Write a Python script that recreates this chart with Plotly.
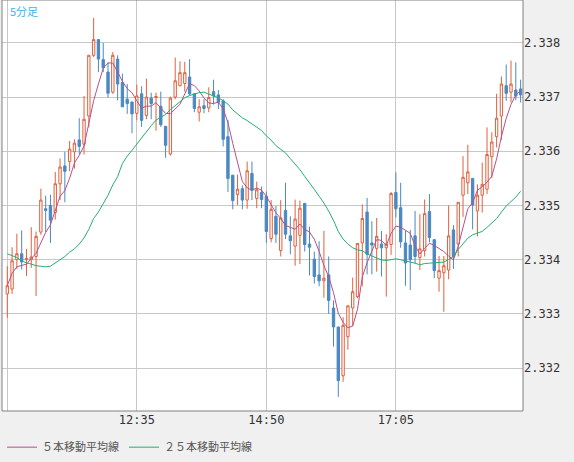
import pandas as pd
import plotly.graph_objects as go

# 5-minute candles, 10:20 .. 19:15
opens = [2.33337, 2.33346, 2.33400, 2.33411, 2.33400, 2.33400, 2.33406, 2.33451, 2.33494, 2.33500,
         2.33487, 2.33540, 2.33573, 2.33581, 2.33599, 2.33621, 2.33613, 2.33665, 2.33777, 2.33806,
         2.33769, 2.33746, 2.33709, 2.33770, 2.33727, 2.33696, 2.33691, 2.33670, 2.33706, 2.33666,
         2.33698, 2.33699, 2.33683, 2.33646, 2.33595, 2.33700, 2.33721, 2.33725, 2.33737, 2.33706,
         2.33672, 2.33684, 2.33680, 2.33710, 2.33704, 2.33693, 2.33627, 2.33556, 2.33520, 2.33531,
         2.33510, 2.33559, 2.33513, 2.33524, 2.33517, 2.33439, 2.33480, 2.33417, 2.33491, 2.33444,
         2.33425, 2.33445, 2.33504, 2.33429, 2.33401, 2.33372, 2.33361, 2.33372, 2.33311, 2.33276,
         2.33186, 2.33258, 2.33311, 2.33332, 2.33431, 2.33488, 2.33431, 2.33421, 2.33429, 2.33422,
         2.33428, 2.33524, 2.33496, 2.33431, 2.33427, 2.33444, 2.33404, 2.33417, 2.33489, 2.33437,
         2.33366, 2.33376, 2.33381, 2.33455, 2.33429, 2.33519, 2.33542, 2.33550, 2.33490, 2.33519,
         2.33530, 2.33590, 2.33627, 2.33665, 2.33721, 2.33709, 2.33713, 2.33715]
highs = [2.33388, 2.33423, 2.33448, 2.33454, 2.33420, 2.33460, 2.33452, 2.33531, 2.33518, 2.33520,
         2.33562, 2.33587, 2.33599, 2.33619, 2.33622, 2.33661, 2.33702, 2.33777, 2.33846, 2.33806,
         2.33800, 2.33764, 2.33783, 2.33777, 2.33743, 2.33724, 2.33691, 2.33723, 2.33720, 2.33734,
         2.33708, 2.33708, 2.33710, 2.33646, 2.33701, 2.33773, 2.33766, 2.33765, 2.33770, 2.33706,
         2.33696, 2.33696, 2.33718, 2.33732, 2.33713, 2.33696, 2.33658, 2.33556, 2.33557, 2.33537,
         2.33581, 2.33581, 2.33544, 2.33535, 2.33526, 2.33510, 2.33499, 2.33510, 2.33542, 2.33480,
         2.33511, 2.33509, 2.33504, 2.33461, 2.33415, 2.33434, 2.33453, 2.33406, 2.33325, 2.33276,
         2.33294, 2.33315, 2.33367, 2.33430, 2.33502, 2.33514, 2.33471, 2.33477, 2.33453, 2.33447,
         2.33525, 2.33561, 2.33542, 2.33453, 2.33455, 2.33490, 2.33484, 2.33511, 2.33521, 2.33438,
         2.33407, 2.33407, 2.33500, 2.33464, 2.33506, 2.33591, 2.33612, 2.33550, 2.33539, 2.33579,
         2.33644, 2.33635, 2.33706, 2.33738, 2.33760, 2.33767, 2.33764, 2.33732]
lows = [2.33293, 2.33337, 2.33383, 2.33382, 2.33370, 2.33385, 2.33333, 2.33446, 2.33451, 2.33431,
        2.33474, 2.33510, 2.33506, 2.33563, 2.33568, 2.33594, 2.33594, 2.33644, 2.33774, 2.33746,
        2.33746, 2.33699, 2.33706, 2.33694, 2.33682, 2.33669, 2.33633, 2.33657, 2.33645, 2.33659,
        2.33659, 2.33638, 2.33645, 2.33588, 2.33592, 2.33696, 2.33720, 2.33710, 2.33703, 2.33672,
        2.33655, 2.33670, 2.33672, 2.33686, 2.33678, 2.33609, 2.33525, 2.33493, 2.33501, 2.33493,
        2.33494, 2.33510, 2.33495, 2.33495, 2.33431, 2.33432, 2.33431, 2.33406, 2.33438, 2.33410,
        2.33389, 2.33392, 2.33415, 2.33371, 2.33356, 2.33351, 2.33330, 2.33300, 2.33240, 2.33147,
        2.33175, 2.33234, 2.33278, 2.33329, 2.33351, 2.33373, 2.33373, 2.33378, 2.33369, 2.33332,
        2.33409, 2.33478, 2.33422, 2.33352, 2.33344, 2.33393, 2.33381, 2.33406, 2.33432, 2.33366,
        2.33341, 2.33304, 2.33364, 2.33383, 2.33406, 2.33479, 2.33521, 2.33456, 2.33443, 2.33487,
        2.33521, 2.33551, 2.33607, 2.33621, 2.33693, 2.33690, 2.33694, 2.33690]
closes = [2.33352, 2.33398, 2.33411, 2.33396, 2.33402, 2.33405, 2.33443, 2.33510, 2.33491, 2.33473,
          2.33540, 2.33571, 2.33563, 2.33604, 2.33615, 2.33609, 2.33659, 2.33777, 2.33806, 2.33770,
          2.33754, 2.33707, 2.33777, 2.33724, 2.33682, 2.33688, 2.33669, 2.33702, 2.33657, 2.33700,
          2.33688, 2.33701, 2.33649, 2.33611, 2.33698, 2.33730, 2.33745, 2.33745, 2.33706, 2.33679,
          2.33682, 2.33679, 2.33699, 2.33702, 2.33690, 2.33622, 2.33550, 2.33509, 2.33530, 2.33510,
          2.33564, 2.33528, 2.33529, 2.33511, 2.33452, 2.33493, 2.33447, 2.33477, 2.33447, 2.33435,
          2.33475, 2.33495, 2.33428, 2.33423, 2.33369, 2.33361, 2.33366, 2.33325, 2.33276, 2.33177,
          2.33279, 2.33315, 2.33341, 2.33430, 2.33476, 2.33410, 2.33427, 2.33443, 2.33422, 2.33429,
          2.33522, 2.33494, 2.33433, 2.33394, 2.33400, 2.33406, 2.33420, 2.33485, 2.33441, 2.33380,
          2.33380, 2.33389, 2.33444, 2.33406, 2.33506, 2.33552, 2.33562, 2.33501, 2.33519, 2.33539,
          2.33594, 2.33617, 2.33661, 2.33724, 2.33707, 2.33724, 2.33702, 2.33704]
# 25-period MA for the first candles (its window reaches before the chart)
ma25_head = [2.33411, 2.33408, 2.33404, 2.33398, 2.33394, 2.33392, 2.33389, 2.33388, 2.33387, 2.33388,
             2.33394, 2.33400, 2.33406, 2.33414, 2.33420, 2.33429, 2.33440, 2.33456, 2.33476, 2.33488,
             2.33504, 2.33519, 2.33538, 2.33553]
tick_idx = [0, 27, 54, 81]
tick_text = ["", "12:35", "14:50", "17:05"]
y_ticks = [2.332, 2.333, 2.334, 2.335, 2.336, 2.337, 2.338]

idx = list(range(len(closes)))
close_s = pd.Series(closes)
ma5 = close_s.rolling(5, min_periods=1).mean()
ma25 = close_s.rolling(25).mean()
ma25[:len(ma25_head)] = ma25_head

UP = "#e0603c"
DOWN = "#4a88c2"

fig = go.Figure()
fig.add_trace(go.Candlestick(
    x=idx, open=opens, high=highs, low=lows, close=closes,
    increasing=dict(line=dict(color=UP, width=1), fillcolor="white"),
    decreasing=dict(line=dict(color=DOWN, width=1), fillcolor=DOWN),
    whiskerwidth=0, showlegend=False, hoverinfo="skip"))
fig.add_trace(go.Scatter(x=idx, y=ma5, mode="lines", name="５本移動平均線",
                         line=dict(color="#b8508a", width=1)))
fig.add_trace(go.Scatter(x=idx, y=ma25, mode="lines", name="２５本移動平均線",
                         line=dict(color="#22b070", width=1)))

fig.update_layout(
    width=574, height=462,
    margin=dict(l=2, r=51, t=0, b=51, autoexpand=False),
    paper_bgcolor="#f0f0f0", plot_bgcolor="white",
    font=dict(family="DejaVu Sans Mono", size=12, color="#333"),
    legend=dict(orientation="h", x=0.0, y=-0.088, yanchor="middle",
                font=dict(family="Noto Sans CJK JP", size=11, color="#555"),
                bgcolor="rgba(0,0,0,0)"),
    annotations=[dict(text="5分足", x=0.012, y=0.998, xref="paper", yref="paper",
                      xanchor="left", yanchor="top", showarrow=False,
                      font=dict(family="Noto Sans CJK JP", size=11, color="#3cb4f0"))],
    shapes=[dict(type="rect", xref="paper", yref="paper", x0=0, y0=0, x1=1, y1=1,
                 line=dict(color="#808080", width=1))],
)
fig.update_xaxes(range=[-1.1, 107.5], tickvals=tick_idx, ticktext=tick_text,
                 showgrid=True, gridcolor="#c8c8c8", zeroline=False, automargin=False,
                 rangeslider_visible=False, ticks="", tickfont=dict(size=12))
fig.update_yaxes(range=[2.33121, 2.33879], side="right", tickvals=y_ticks,
                 tickformat=".3f", showgrid=True, gridcolor="#c8c8c8", automargin=False,
                 zeroline=False, ticks="", tickfont=dict(size=12))

fig.write_html("out.html", config={"displayModeBar": False},
               post_script="document.body.style.margin='0';")
